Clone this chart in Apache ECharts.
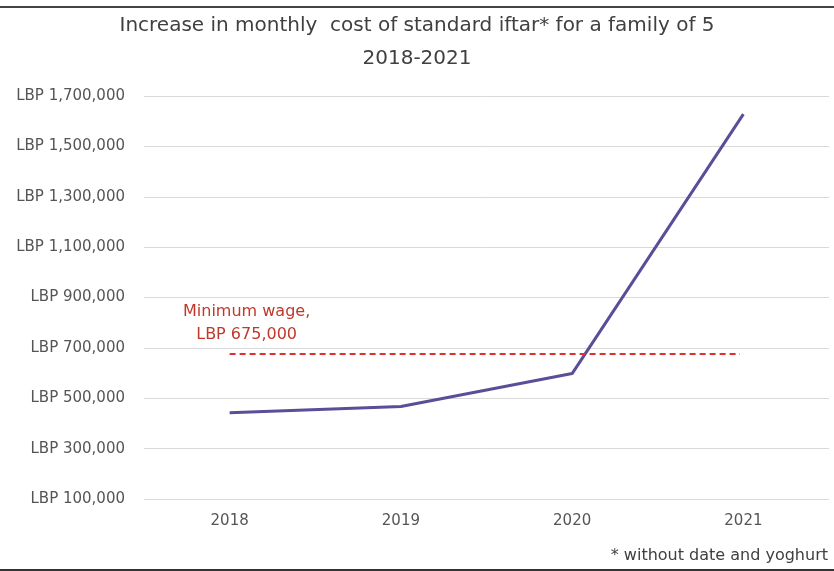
<!DOCTYPE html>
<html>
<head>
<meta charset="utf-8">
<script src="https://cdn.jsdelivr.net/npm/echarts@6/dist/echarts.min.js"></script>
<style>
  html, body { margin: 0; padding: 0; background: #fff; }
  #chart { width: 834px; height: 571px; }
</style>
</head>
<body>
<div id="chart"></div>
<script>
// data
const years = ['2018', '2019', '2020', '2021']
const iftarCost = [442000, 467000, 598000, 1628000]
const minWage = 675000
const yTicks = [100000, 300000, 500000, 700000, 900000, 1100000, 1300000, 1500000, 1700000]

const chart = echarts.init(document.getElementById('chart'))

const fmt = v => 'LBP ' + v.toLocaleString('en-US')

chart.setOption({
  backgroundColor: '#fff',
  textStyle: { fontFamily: 'DejaVu Sans' },
  title: {
    text: 'Increase in monthly  cost of standard iftar* for a family of 5\n2018-2021',
    left: 'center',
    top: 4,
    textStyle: {
      fontFamily: 'DejaVu Sans',
      fontSize: 20,
      fontWeight: 'normal',
      color: '#404040',
      lineHeight: 33
    }
  },
  graphic: [
    { type: 'rect', shape: { x: 0, y: 6, width: 834, height: 2 }, style: { fill: '#444' } },
    { type: 'rect', shape: { x: 0, y: 569, width: 834, height: 2 }, style: { fill: '#333' } },
    {
      type: 'text', right: 6, top: 548,
      style: { text: '* without date and yoghurt', fontSize: 16, fill: '#404040', fontFamily: 'DejaVu Sans' }
    }
  ],
  grid: { left: 144, right: 5, top: 96, bottom: 72 },
  xAxis: {
    type: 'category',
    data: years,
    boundaryGap: true,
    axisLine: { show: false },
    axisTick: { show: false },
    axisLabel: { color: '#555', fontSize: 15, margin: 15, fontFamily: 'DejaVu Sans' }
  },
  yAxis: {
    type: 'value',
    min: yTicks[0],
    max: yTicks[yTicks.length - 1],
    interval: yTicks[1] - yTicks[0],
    axisLine: { show: false },
    axisTick: { show: false },
    axisLabel: { color: '#555', fontSize: 15, margin: 19, formatter: fmt, fontFamily: 'DejaVu Sans' },
    splitLine: { lineStyle: { color: '#d9d9d9', width: 1 } }
  },
  series: [{
    name: 'Iftar cost',
    type: 'line',
    data: iftarCost,
    symbol: 'none',
    lineStyle: { color: '#5a4e98', width: 3 },
    markLine: {
      silent: true,
      symbol: ['none', 'none'],
      lineStyle: { color: '#e0302e', type: [6, 4], width: 2 },
      label: {
        show: true,
        position: 'insideStartTop',
        formatter: 'Minimum wage,\nLBP ' + minWage.toLocaleString('en-US'),
        align: 'center',
        color: '#c0392b',
        fontSize: 16,
        lineHeight: 23,
        fontFamily: 'DejaVu Sans',
        offset: [12, -3]
      },
      data: [[
        { coord: ['2018', minWage] },
        { coord: ['2021', minWage], x: 740 }
      ]]
    },
    z: 3
  }]
})
</script>
</body>
</html>
